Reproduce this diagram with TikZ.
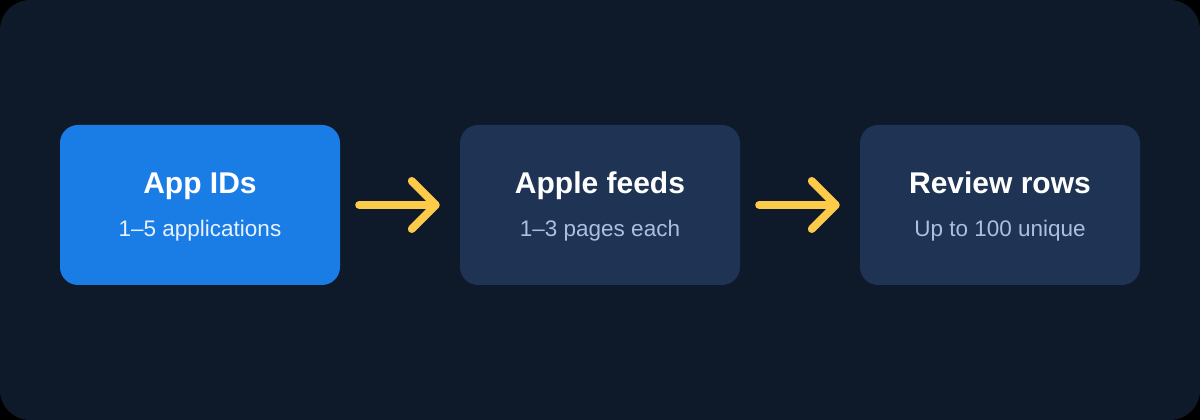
\documentclass[tikz,border=0pt]{standalone}
\usepackage{fontspec}
\setmainfont{Liberation Sans}
\usetikzlibrary{arrows.meta, positioning}
\definecolor{bgnavy}{RGB}{14,25,42}
\definecolor{inputblue}{RGB}{26,125,230}
\definecolor{stageblue}{RGB}{31,51,84}
\definecolor{flowyellow}{RGB}{252,203,74}
\definecolor{subgray}{RGB}{170,192,222}
\definecolor{subwhite}{RGB}{232,242,255}
\tikzset{
    stage/.style={rectangle, rounded corners=18pt, fill=stageblue, minimum width=280pt, minimum height=160pt, inner sep=0pt},
    input/.style={stage, fill=inputblue},
    title/.style={anchor=base, text=white, font=\fontsize{30}{36}\selectfont\bfseries},
    sub/.style={anchor=base, text=subgray, font=\fontsize{22.5}{27}\selectfont},
    flow/.style={-{Straight Barb[length=24pt, width=48pt, line cap=round, line join=round]}, line width=8pt, line cap=round, flowyellow},
}
\begin{document}
\begin{tikzpicture}[x=1pt, y=1pt]
    \fill[black] (0,0) rectangle (1200,420);
    \fill[bgnavy, rounded corners=30pt] (0,0) rectangle (1200,420);
    \useasboundingbox (0,0) rectangle (1200,420);
    % stages
    \node[input] (app) at (200,215) {};
    \node[stage] (feeds) at (600,215) {};
    \node[stage] (rows) at (1000,215) {};
    % texts
    \node[title] (appt) at ([yshift=11pt]app.center) {App IDs};
    \node[sub, text=subwhite] (apps) at ([yshift=-32pt]app.center) {1–5 applications};
    \node[title] (feedst) at ([yshift=11pt]feeds.center) {Apple feeds};
    \node[sub] (feedss) at ([yshift=-32pt]feeds.center) {1–3 pages each};
    \node[title] (rowst) at ([yshift=11pt]rows.center) {Review rows};
    \node[sub] (rowss) at ([yshift=-32pt]rows.center) {Up to 100 unique};
    % arrows
    \draw[flow] ([xshift=19pt]app.east) -- ([xshift=-20pt]feeds.west);
    \draw[flow] ([xshift=19pt]feeds.east) -- ([xshift=-20pt]rows.west);
\end{tikzpicture}
\end{document}
